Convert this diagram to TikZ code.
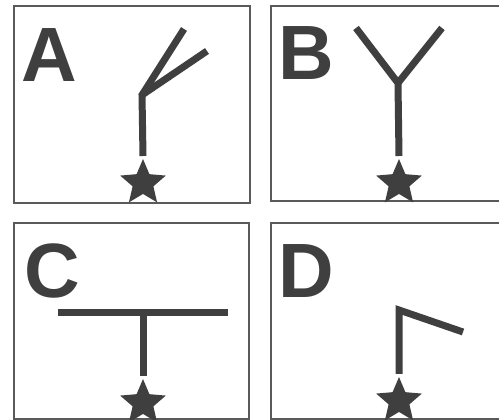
\documentclass[tikz,border=0pt]{standalone}
\usepackage{fontspec}
\setmainfont{Liberation Sans}
\usetikzlibrary{shapes.geometric}
\definecolor{ink}{HTML}{3F3F3F}
\definecolor{framec}{HTML}{5A5A5A}
\begin{document}
\begin{tikzpicture}[x=1pt,y=-1pt,
  panel/.style={draw=framec,line width=1.4pt},
  stroke/.style={draw=ink,line width=7pt},
  starnode/.style={star,star points=5,star point ratio=2.2,fill=ink,draw=none,minimum size=48pt,inner sep=0pt,outer sep=0pt},
  letter/.style={font=\fontsize{77}{77}\selectfont\bfseries,text=ink,inner sep=0pt,anchor=base}]
\useasboundingbox (0,0) rectangle (499,420);
\fill[white] (0,0) rectangle (499,420);
% panels
\draw[panel] (14,6) rectangle (250,203);
\draw[panel] (499,6) -- (271,6) -- (271,201) -- (499,201);
\draw[panel] (14,419) -- (14,223) -- (249,223) -- (249,419) -- cycle;
\draw[panel] (499,223) -- (271,223) -- (271,419) -- (499,419);
% letters
\node[letter] (LA) at (49,82) {A};
\node[letter] (LB) at (306,80) {B};
\node[letter] (LC) at (52,297) {C};
\node[letter] (LD) at (306,297) {D};
% stars
\node[starnode] (sA) at (143,183) {};
\node[starnode] (sB) at (399,183) {};
\node[starnode] (sC) at (143,403) {};
\node[starnode] (sD) at (399,401) {};
% A
\coordinate (jA) at (142,95);
\coordinate (tA1) at (184,29);
\coordinate (tA2) at (207,51);
\draw[stroke] ([yshift=3pt]sA.north) -- (jA) -- (tA1);
\draw[stroke] (jA) -- (tA2);
% B
\coordinate (jB) at (398,83);
\coordinate (tB1) at (356,28);
\coordinate (tB2) at (442,28);
\draw[stroke] ([yshift=3pt]sB.north) -- (jB) -- (tB1);
\draw[stroke] (jB) -- (tB2);
% C
\coordinate (jC) at (143,312);
\coordinate (tC1) at (58,312);
\coordinate (tC2) at (228,312);
\draw[stroke] (tC1) -- (tC2);
\draw[stroke] ([yshift=3pt]sC.north) -- (jC);
% D
\coordinate (jD) at (399,310);
\coordinate (tD) at (463,332);
\draw[stroke] ([yshift=3pt]sD.north) -- (jD) -- (tD);
\end{tikzpicture}
\end{document}
